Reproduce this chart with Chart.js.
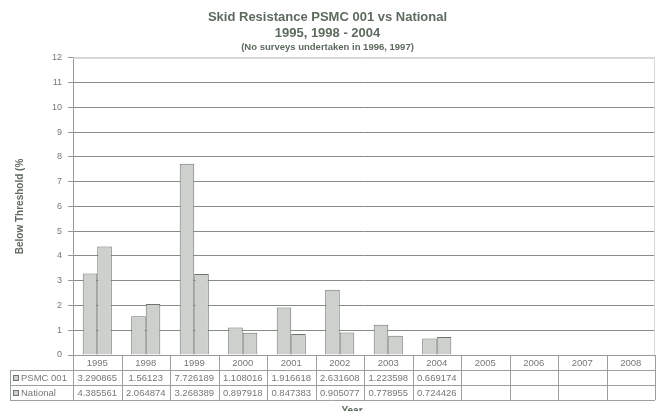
<!DOCTYPE html>
<html>
<head>
<meta charset="utf-8">
<script src="https://cdn.jsdelivr.net/npm/chart.js@4"></script>
<style>
  html, body { margin:0; padding:0; background:#fff; }
  .chart-box { width:659px; height:411px; position:relative; }
</style>
</head>
<body>
<div class="chart-box"><canvas id="skidChart"></canvas></div>
<script>
// data
const YEARS    = ['1995','1998','1999','2000','2001','2002','2003','2004','2005','2006','2007','2008'];
const PSMC     = [3.290865, 1.56123, 7.726189, 1.108016, 1.916618, 2.631608, 1.223598, 0.669174, null, null, null, null];
const NATIONAL = [4.385561, 2.064874, 3.268389, 0.897918, 0.847383, 0.905077, 0.778955, 0.724426, null, null, null, null];
const Y_TICKS  = [0,1,2,3,4,5,6,7,8,9,10,11,12];

// colours
const BAR_FILL = '#cdd0cd';
const BAR_LINE = '#6c766c';
const GRID     = '#848e84';
const TEXT     = '#5f6a5f';
const FONT     = '"Liberation Sans", Arial, sans-serif';

// data table drawn under the plot, aligned on the x scale
const dataTable = {
  id: 'dataTable',
  afterDraw(chart){
    const ctx = chart.ctx;
    const area = chart.chartArea;
    const x = chart.scales.x;
    const n = YEARS.length;
    const w = (area.right - area.left) / n;
    const top = area.bottom, r1 = top + 15, r2 = r1 + 15, r3 = r2 + 15;
    const labL = 10;
    ctx.save();
    ctx.strokeStyle = '#9aa09a';
    ctx.lineWidth = 1;
    ctx.beginPath();
    // horizontal lines
    [r1, r2, r3].forEach(y => { ctx.moveTo(labL, y + .5); ctx.lineTo(area.right, y + .5); });
    // verticals
    for (let i = 0; i <= n; i++) {
      const xx = Math.round(area.left + i * w) + .5;
      ctx.moveTo(xx, top); ctx.lineTo(xx, r3);
    }
    ctx.moveTo(labL + .5, r1); ctx.lineTo(labL + .5, r3);
    ctx.stroke();

    ctx.fillStyle = '#777';
    ctx.font = '9.5px ' + FONT;
    ctx.textAlign = 'center';
    ctx.textBaseline = 'middle';
    YEARS.forEach((yr, i) => {
      const cx = x.getPixelForValue(i);
      ctx.fillText(yr, cx, (top + r1) / 2 + 1);
      if (PSMC[i] != null) ctx.fillText(String(PSMC[i]), cx, (r1 + r2) / 2 + 1);
      if (NATIONAL[i] != null) ctx.fillText(String(NATIONAL[i]), cx, (r2 + r3) / 2 + 1);
    });

    // legend keys in the row headers
    [['PSMC 001', r1], ['National', r2]].forEach(([name, y]) => {
      ctx.fillStyle = BAR_FILL;
      ctx.strokeStyle = BAR_LINE;
      ctx.fillRect(13, y + 5, 6, 6);
      ctx.strokeRect(13.5, y + 5.5, 5, 5);
      ctx.fillStyle = '#777';
      ctx.textAlign = 'left';
      ctx.fillText(name, 21, y + 8.5);
    });

    // x title (cut at the bottom like the original)
    ctx.fillStyle = TEXT;
    ctx.font = 'bold 10px ' + FONT;
    ctx.textAlign = 'center';
    ctx.textBaseline = 'top';
    ctx.fillText('Year', 352, r3 + 6);

    // light frame on top/right of plot
    ctx.strokeStyle = '#d4d8d4';
    ctx.beginPath();
    ctx.moveTo(area.left, area.top + .5); ctx.lineTo(area.right - .5, area.top + .5);
    ctx.lineTo(area.right - .5, area.bottom);
    ctx.stroke();
    ctx.restore();
  }
};

new Chart(document.getElementById('skidChart'), {
  type: 'bar',
  data: {
    labels: YEARS,
    datasets: [
      { label: 'PSMC 001', data: PSMC, backgroundColor: BAR_FILL, borderColor: BAR_LINE, borderWidth: 1 },
      { label: 'National', data: NATIONAL, backgroundColor: BAR_FILL, borderColor: BAR_LINE, borderWidth: 1 }
    ]
  },
  options: {
    responsive: true,
    maintainAspectRatio: false,
    animation: false,
    devicePixelRatio: 1,
    layout: { padding: { top: 6, right: 4, left: 0, bottom: 0 } },
    datasets: { bar: { categoryPercentage: 0.6, barPercentage: 1.0 } },
    plugins: {
      legend: { display: false },
      tooltip: { enabled: false },
      title: {
        display: true,
        text: ['Skid Resistance PSMC 001 vs National', '1995, 1998 - 2004'],
        color: TEXT,
        font: { family: FONT, size: 13, weight: 'bold', lineHeight: 1.23 },
        padding: { top: 3, bottom: 0 }
      },
      subtitle: {
        display: true,
        text: '(No surveys undertaken in 1996, 1997)',
        color: TEXT,
        font: { family: FONT, size: 9.5, weight: 'bold', lineHeight: 1.15 },
        padding: { top: 1, bottom: 5 }
      }
    },
    scales: {
      x: {
        ticks: { display: false },
        grid: { display: false },
        border: { color: '#999' },
        afterFit(scale){ scale.height = 56; }
      },
      y: {
        min: 0, max: 12,
        afterBuildTicks(scale){ scale.ticks = Y_TICKS.map(v => ({ value: v })); },
        ticks: { color: '#777', font: { family: FONT, size: 9 }, padding: 6 },
        grid: {
          color: ctx => ctx.tick && ctx.tick.value === 12 ? '#d4d8d4' : GRID,
          tickColor: '#999',
          tickLength: 5
        },
        border: { color: '#999' },
        title: {
          display: true,
          text: 'Below Threshold (%',
          color: TEXT,
          font: { family: FONT, size: 10, weight: 'bold' },
          padding: { top: 14, bottom: 0 }
        },
        afterFit(scale){ scale.width = 73; }
      }
    }
  },
  plugins: [dataTable]
});
</script>
</body>
</html>
